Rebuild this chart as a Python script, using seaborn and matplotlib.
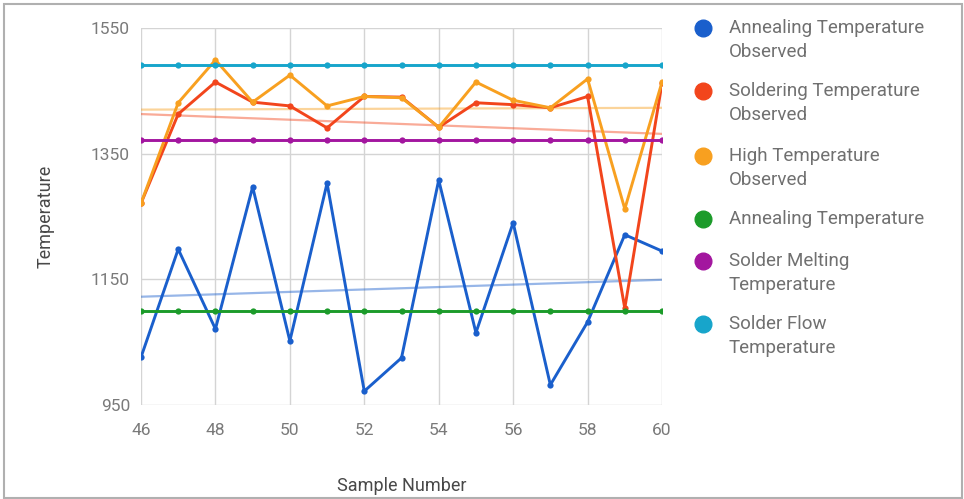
import numpy as np
import pandas as pd
import matplotlib
matplotlib.use("Agg")
import matplotlib.pyplot as plt
from matplotlib.lines import Line2D
from matplotlib.patches import Rectangle
import seaborn as sns

sns.set_style("white")
plt.rcParams["font.family"] = ["Roboto", "DejaVu Sans"]

# Sample numbers
samples = list(range(46, 61))

# Observed temperatures
annealing_observed = [1026, 1198, 1071, 1297, 1052, 1303, 972, 1025, 1308, 1065, 1240, 982, 1082, 1221, 1195]
soldering_observed = [1271, 1413, 1464, 1432, 1426, 1391, 1441, 1440, 1392, 1431, 1428, 1423, 1441, 1104, 1462]
high_observed = [1271, 1431, 1499, 1432, 1475, 1426, 1441, 1439, 1392, 1464, 1435, 1423, 1469, 1262, 1464]

# Reference (constant) temperatures
annealing_temp = [1100] * 15
solder_melting = [1372] * 15
solder_flow = [1491] * 15

series_names = [
    "Annealing Temperature\nObserved",
    "Soldering Temperature\nObserved",
    "High Temperature\nObserved",
    "Annealing Temperature",
    "Solder Melting\nTemperature",
    "Solder Flow\nTemperature",
]
series_values = [annealing_observed, soldering_observed, high_observed,
                 annealing_temp, solder_melting, solder_flow]
colors = ["#1a5fcc", "#f2451c", "#f8a020", "#1c9b2a", "#a3169f", "#17a5cb"]
trend_series = [0, 1, 2]

fig = plt.figure(figsize=(9.64, 4.99), dpi=100)
ax = fig.add_axes([141 / 964, 1 - 405 / 499, (662 - 141) / 964, (405 - 28) / 499])

# Linear trendlines for observed series (drawn beneath the data lines)
x = np.array(samples, dtype=float)
for i in trend_series:
    coef = np.polyfit(x, np.array(series_values[i], dtype=float), 1)
    trend = pd.DataFrame({"x": x, "y": np.polyval(coef, x)})
    sns.lineplot(data=trend, x="x", y="y", ax=ax, color=colors[i],
                 alpha=0.45, linewidth=1.6, zorder=2)

# Data lines with point markers
for name, vals, c in zip(series_names, series_values, colors):
    df = pd.DataFrame({"Sample Number": samples, "Temperature": vals})
    sns.lineplot(data=df, x="Sample Number", y="Temperature", ax=ax,
                 color=c, linewidth=2.1, marker="o", markersize=4.5,
                 markeredgewidth=0, zorder=3)

ax.set_xlim(46, 60)
ax.set_ylim(950, 1550)
ax.set_xticks(range(46, 61, 2))
ax.set_yticks([950, 1150, 1350, 1550])
ax.grid(True, color="#d4d4d4", linewidth=1.0, zorder=0)
for s in ax.spines.values():
    s.set_visible(False)
ax.tick_params(axis="both", length=0, labelsize=12.5, labelcolor="#7a7a7a")
ax.tick_params(axis="x", pad=13)
ax.tick_params(axis="y", pad=8)
ax.set_xlabel("Sample Number", fontsize=13, color="#484848", labelpad=28)
ax.set_ylabel("Temperature", fontsize=13, color="#484848", labelpad=26)

# Legend: colored dot aligned with the first line of each label
legend_rows = [28, 91, 156, 219, 261, 324]
line_step = 24
for name, c, row in zip(series_names, colors, legend_rows):
    fig.add_artist(Line2D([703 / 964], [1 - row / 499], marker="o", markersize=12,
                          color=c, linestyle="none", transform=fig.transFigure))
    for k, part in enumerate(name.split("\n")):
        fig.text(729 / 964, 1 - (row + k * line_step) / 499, part, fontsize=13.5,
                 color="#707070", va="center", ha="left")

# Outer frame
fig.add_artist(Rectangle((4 / 964, 1 / 499), 958 / 964, 494 / 499,
                         transform=fig.transFigure, fill=False,
                         edgecolor="#b0b0b0", linewidth=1.5))

fig.savefig("out.png", dpi=100)
